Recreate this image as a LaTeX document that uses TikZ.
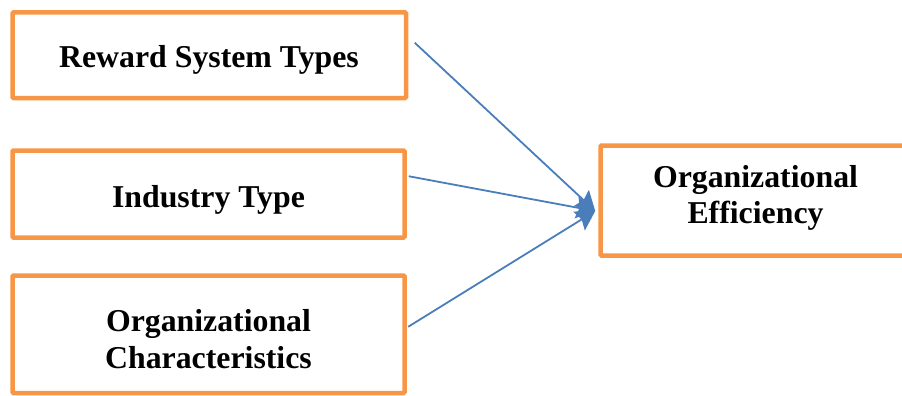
\documentclass[tikz,border=0pt]{standalone}
\usepackage{fontspec}
\setmainfont{Liberation Serif}
\usetikzlibrary{arrows.meta,calc}
\definecolor{boxorange}{HTML}{F79646}
\definecolor{arrowblue}{HTML}{4A7EBB}
\begin{document}
\begin{tikzpicture}[x=1pt,y=-1pt,
  box/.style={draw=boxorange,line width=4.5pt,rounded corners=1pt,rectangle,inner sep=0pt},
  lbl/.style={font=\fontsize{31.8}{36.5}\selectfont\bfseries,align=center,inner sep=0pt},
  conn/.style={draw=arrowblue,line width=1.8pt,-{Stealth[length=19pt,width=22pt,inset=3pt]}}]
\useasboundingbox (0,0) rectangle (902,396);
\node[box,minimum width=393.5pt,minimum height=85.5pt] (b1) at (209.25,55.25) {};
\node[box,minimum width=392pt,minimum height=87pt] (b2) at (208.5,194) {};
\node[box,minimum width=392pt,minimum height=117.5pt] (b3) at (208.5,334.25) {};
\node[box,minimum width=310pt,minimum height=110pt] (b4) at (755.5,200.5) {};
\node[lbl] (t1) at (209,60) {Reward System Types};
\node[lbl] (t2) at (208.5,200) {Industry Type};
\node[lbl] (t3) at (208.5,339) {Organizational\\Characteristics};
\node[lbl] (t4) at (755.5,198) {Organizational\\Efficiency};
\coordinate (s1) at ($(b1.north east)+(6.5,32.5)$);
\coordinate (s2) at ($(b2.north east)+(2,28)$);
\coordinate (s3) at ($(b3.north east)+(1.5,53.5)$);
\coordinate (tip) at ($(b4.west)+(-3,10.5)$);
\draw[conn] (s1) -- (tip);
\draw[conn] (s2) -- (tip);
\draw[conn] (s3) -- (tip);
\end{tikzpicture}
\end{document}
